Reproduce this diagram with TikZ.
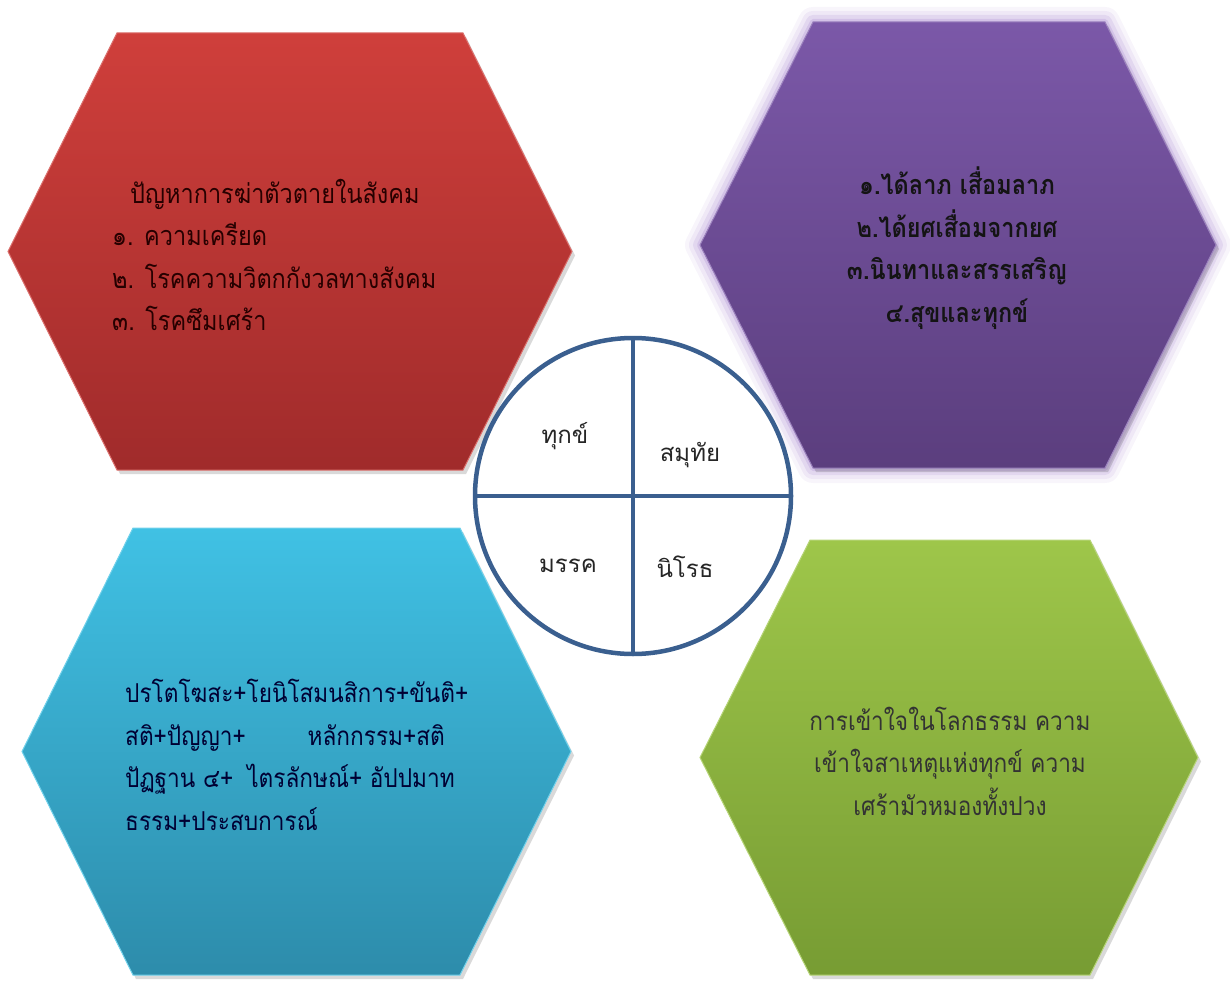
\documentclass[tikz,border=0pt]{standalone}
\usepackage{fontspec}
\setmainfont[Script=Thai]{Loma}
\newfontfamily\narrowthai[Script=Thai, FakeStretch=0.87]{Loma}
\definecolor{redT}{HTML}{CF3F3B}
\definecolor{redB}{HTML}{A02B2B}
\definecolor{purT}{HTML}{7B58A8}
\definecolor{purB}{HTML}{5B3E7E}
\definecolor{bluT}{HTML}{40C1E4}
\definecolor{bluB}{HTML}{2D8CAB}
\definecolor{grnT}{HTML}{9EC64A}
\definecolor{grnB}{HTML}{779C33}
\definecolor{glow}{HTML}{C4AEDF}
\definecolor{wheelblue}{HTML}{3A5F8F}
\begin{document}
\begin{tikzpicture}[x=1pt, y=-1pt,
        hexshadow/.style={fill=black, opacity=0.15},
        hextext/.style={inner sep=0pt, font=\narrowthai\fontsize{26}{42.5}\selectfont},
        wheeltext/.style={inner sep=0pt, text=black!85, font=\fontsize{24}{28}\selectfont}]
    \useasboundingbox (0,0) rectangle (1230,981);
    % glow round the purple one
    \foreach \w/\o in {30/0.12, 22/0.18, 14/0.3, 6/0.5}
        {
            \draw[line width=\w pt, glow, opacity=\o, line join=round](700,245)--(813,22)--(1105,22)--(1216,245)--(1105,468)--(813,468)--cycle;
        }
    % hexagons: left x / top-left x / top-right x / right x / top y / bottom y / colour
    \foreach \xl/\xa/\xb/\xr/\yt/\yb/\c in {8/117/463/572/33/470/red, 700/813/1105/1216/22/468/pur, 22/133/460/571/528/975/blu, 700/810/1090/1198/540/975/grn}
        {
            \pgfmathsetmacro\ym{(\yt+\yb)/2}
            \fill[hexshadow, shift={(3,4)}](\xl,\ym)--(\xa,\yt)--(\xb,\yt)--(\xr,\ym)--(\xb,\yb)--(\xa,\yb)--cycle;
            \shade[top color=\c T, bottom color=\c B, draw=\c T!75!white, line width=1pt](\xl,\ym)--(\xa,\yt)--(\xb,\yt)--(\xr,\ym)--(\xb,\yb)--(\xa,\yb)--cycle;
        }
    \node (problem) [hextext, text=black!85!red, font=\narrowthai\fontsize{27}{42.5}\selectfont, anchor=west, align=left] at (112,255)
        {\hspace{18pt}ปัญหาการฆ่าตัวตายในสังคม\\๑. ความเครียด\\๒. โรคความวิตกกังวลทางสังคม\\๓. โรคซึมเศร้า};
    \node (worldly) [hextext, text=black!92, font=\narrowthai\fontsize{27}{42.5}\selectfont\bfseries, align=center] at (957,248)
        {๑.ได้ลาภ เสื่อมลาภ\\๒.ได้ยศเสื่อมจากยศ\\๓.นินทาและสรรเสริญ\\๔.สุขและทุกข์};
    \node (practice) [hextext, text=black!80!blue, anchor=west, align=left] at (125,755)
        {ปรโตโฆสะ+โยนิโสมนสิการ+ขันติ+\\สติ+ปัญญา+\hspace{62pt}หลักกรรม+สติ\\ปัฏฐาน ๔+\hspace{14pt}ไตรลักษณ์+ อัปปมาท\\ธรรม+ประสบการณ์};
    \node (insight) [hextext, text=black!80, align=center] at (950,761)
        {การเข้าใจในโลกธรรม ความ\\เข้าใจสาเหตุแห่งทุกข์ ความ\\เศร้ามัวหมองทั้งปวง};
    % the wheel in the middle
    \node (wheel) [circle, draw=wheelblue, line width=4.5pt, fill=white, minimum size=316pt, inner sep=0pt] at (633,496) {};
    \draw[wheelblue, line width=4.5pt](wheel.north)--(wheel.south) (wheel.west)--(wheel.east);
    \node (dukkha) [wheeltext] at (565,436) {ทุกข์};
    \node (samudaya) [wheeltext] at (690,455) {สมุทัย};
    \node (magga) [wheeltext] at (568,566) {มรรค};
    \node (nirodha) [wheeltext] at (685,567) {นิโรธ};
\end{tikzpicture}
\end{document}
